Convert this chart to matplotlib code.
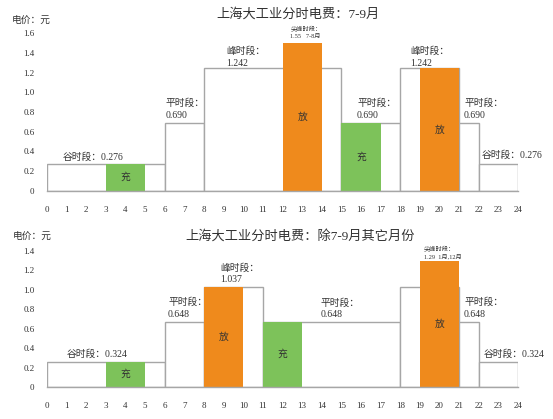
import matplotlib
matplotlib.use("Agg")
import matplotlib.pyplot as plt

plt.rcParams['font.family'] = ['Liberation Serif', 'Noto Sans CJK SC']

hours = list(range(25))

# 7-9月: base periods (start, end, drawn height)
summer_starts = [0, 6, 8, 15, 18, 21, 22]
summer_ends = [6, 8, 15, 18, 21, 22, 24]
summer_heights = [0.276, 0.69, 1.242, 0.69, 1.242, 0.69, 0.276]
# storage charge / discharge
summer_op_starts = [3, 12, 15, 19]
summer_op_ends = [5, 14, 17, 21]
summer_op_heights = [0.276, 1.5, 0.69, 1.242]
summer_op_kind = ['充', '放', '充', '放']

# other months
other_starts = [0, 6, 8, 11, 18, 21, 22]
other_ends = [6, 8, 11, 18, 21, 22, 24]
other_heights = [0.26, 0.67, 1.03, 0.67, 1.03, 0.67, 0.26]
other_op_starts = [3, 8, 11, 19]
other_op_ends = [5, 10, 13, 21]
other_op_heights = [0.26, 1.03, 0.67, 1.29]
other_op_kind = ['充', '放', '充', '放']

# labels: (x, y, text, size)
summer_labels = [
    (0.82, 0.34, '谷时段：0.276', 7),
    (6.06, 0.89, '平时段：', 7), (6.06, 0.76, '0.690', 7),
    (9.12, 1.42, '峰时段：', 7), (9.12, 1.29, '1.242', 7),
    (12.4, 1.64, '尖峰时段：', 4.5), (12.4, 1.56, '1.55   7-8月', 4.5),
    (15.8, 0.89, '平时段：', 7), (15.8, 0.76, '0.690', 7),
    (18.5, 1.42, '峰时段：', 7), (18.5, 1.29, '1.242', 7),
    (21.25, 0.89, '平时段：', 7), (21.25, 0.76, '0.690', 7),
    (22.17, 0.36, '谷时段：0.276', 7),
]
other_labels = [
    (1.0, 0.34, '谷时段：0.324', 7),
    (6.17, 0.87, '平时段：', 7), (6.17, 0.74, '0.648', 7),
    (8.85, 1.22, '峰时段：', 7), (8.85, 1.10, '1.037', 7),
    (13.95, 0.86, '平时段：', 7), (13.95, 0.74, '0.648', 7),
    (19.2, 1.41, '尖峰时段：', 4.5), (19.2, 1.34, '1.29  1月,12月', 4.5),
    (21.25, 0.87, '平时段：', 7), (21.25, 0.74, '0.648', 7),
    (22.27, 0.34, '谷时段：0.324', 7),
]

GREEN = '#7dc25a'
ORANGE = '#ef8a1c'
EDGE = '#a6a6a6'
TXT = '#333333'


def draw(ax, starts, ends, heights, op_s, op_e, op_h, kinds, labels, ymax):
    widths = [e - s for s, e in zip(starts, ends)]
    ax.bar(starts, heights, width=widths, align='edge', color='white',
           edgecolor=EDGE, linewidth=1.0)
    op_w = [e - s for s, e in zip(op_s, op_e)]
    cols = [GREEN if k == '充' else ORANGE for k in kinds]
    ax.bar(op_s, op_h, width=op_w, align='edge', color=cols, linewidth=0)
    for s, w, h, k in zip(op_s, op_w, op_h, kinds):
        ax.text(s + w / 2, h / 2, k, ha='center', va='center', fontsize=7, color=TXT)
    for x, y, t, fs in labels:
        ax.text(x, y, t, ha='left', va='center', fontsize=fs, color=TXT, clip_on=False)
    n = int(round(ymax / 0.2))
    ax.set_xlim(0, 24)
    ax.set_ylim(0, ymax)
    ax.set_xticks(hours)
    ax.set_yticks([i * 0.2 for i in range(n + 1)])
    ax.set_yticklabels(['0'] + [f'{i * 0.2:.1f}' for i in range(1, n + 1)])
    ax.tick_params(axis='x', length=0, pad=11, labelsize=6.5, colors=TXT)
    ax.tick_params(axis='y', length=0, pad=9, labelsize=6.5, colors=TXT)
    for sp in ['top', 'right', 'left']:
        ax.spines[sp].set_visible(False)
    ax.spines['bottom'].set_color(EDGE)
    ax.spines['bottom'].set_linewidth(1.0)


fig = plt.figure(figsize=(5.53, 4.19), dpi=100)
ax1 = fig.add_axes([47 / 553, 1 - 191 / 419, 471 / 553, 158 / 419])
ax2 = fig.add_axes([47 / 553, 1 - 387 / 419, 471 / 553, 136.5 / 419])

draw(ax1, summer_starts, summer_ends, summer_heights, summer_op_starts, summer_op_ends,
     summer_op_heights, summer_op_kind, summer_labels, 1.6)
draw(ax2, other_starts, other_ends, other_heights, other_op_starts, other_op_ends,
     other_op_heights, other_op_kind, other_labels, 1.4)

fig.text(298 / 553, 1 - 14 / 419, '上海大工业分时电费：7-9月', ha='center', va='center',
         fontsize=9.5, color=TXT)
fig.text(300 / 553, 1 - 236 / 419, '上海大工业分时电费：除7-9月其它月份', ha='center',
         va='center', fontsize=9.5, color=TXT)
fig.text(12 / 553, 1 - 20 / 419, '电价：元', ha='left', va='center', fontsize=7, color=TXT)
fig.text(13 / 553, 1 - 236 / 419, '电价：元', ha='left', va='center', fontsize=7, color=TXT)

fig.savefig('out.png', dpi=100)
